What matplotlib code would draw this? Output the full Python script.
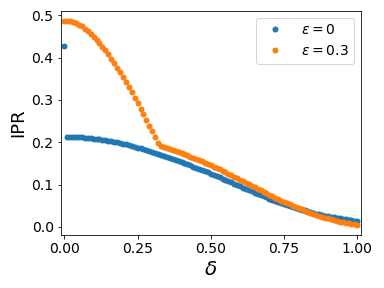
import matplotlib
matplotlib.use("Agg")
import matplotlib.pyplot as plt
import numpy as np

# delta grid, step 0.01
delta = np.round(np.arange(0, 101) * 0.01, 2)

ipr_eps0 = [
    0.4270, 0.2130, 0.2128, 0.2126, 0.2123, 0.2120, 0.2115, 0.2110, 0.2104, 0.2097,
    0.2089, 0.2080, 0.2071, 0.2061, 0.2050, 0.2038, 0.2025, 0.2012, 0.1998, 0.1983,
    0.1967, 0.1950, 0.1933, 0.1915, 0.1896, 0.1877, 0.1857, 0.1836, 0.1815, 0.1793,
    0.1770, 0.1749, 0.1727, 0.1705, 0.1683, 0.1660, 0.1636, 0.1611, 0.1585, 0.1558,
    0.1530, 0.1504, 0.1478, 0.1452, 0.1426, 0.1400, 0.1372, 0.1344, 0.1316, 0.1288,
    0.1260, 0.1230, 0.1200, 0.1170, 0.1140, 0.1110, 0.1080, 0.1050, 0.1020, 0.0990,
    0.0960, 0.0930, 0.0900, 0.0870, 0.0840, 0.0810, 0.0782, 0.0754, 0.0726, 0.0698,
    0.0670, 0.0644, 0.0618, 0.0592, 0.0566, 0.0540, 0.0518, 0.0496, 0.0474, 0.0452,
    0.0430, 0.0410, 0.0390, 0.0370, 0.0350, 0.0330, 0.0314, 0.0298, 0.0282, 0.0266,
    0.0250, 0.0238, 0.0226, 0.0214, 0.0202, 0.0190, 0.0180, 0.0170, 0.0160, 0.0150,
    0.0140,
]

ipr_eps03 = [
    0.4870, 0.4866, 0.4855, 0.4837, 0.4811, 0.4778, 0.4737, 0.4689, 0.4633, 0.4570,
    0.4500, 0.4425, 0.4345, 0.4260, 0.4170, 0.4075, 0.3975, 0.3870, 0.3762, 0.3651,
    0.3537, 0.3420, 0.3300, 0.3177, 0.3051, 0.2923, 0.2793, 0.2661, 0.2527, 0.2392,
    0.2256, 0.2119, 0.1982, 0.1915, 0.1888, 0.1860, 0.1836, 0.1812, 0.1788, 0.1764,
    0.1740, 0.1714, 0.1688, 0.1662, 0.1636, 0.1610, 0.1580, 0.1550, 0.1520, 0.1490,
    0.1460, 0.1426, 0.1392, 0.1358, 0.1324, 0.1290, 0.1256, 0.1222, 0.1188, 0.1154,
    0.1120, 0.1084, 0.1048, 0.1012, 0.0976, 0.0940, 0.0904, 0.0868, 0.0832, 0.0796,
    0.0760, 0.0726, 0.0692, 0.0658, 0.0624, 0.0590, 0.0560, 0.0530, 0.0500, 0.0470,
    0.0440, 0.0414, 0.0388, 0.0362, 0.0336, 0.0310, 0.0288, 0.0266, 0.0244, 0.0222,
    0.0200, 0.0182, 0.0164, 0.0146, 0.0128, 0.0110, 0.0098, 0.0086, 0.0074, 0.0062,
    0.0050,
]

labels = [r'$\epsilon=0$', r'$\epsilon=0.3$']
xticks = [0.0, 0.25, 0.5, 0.75, 1.0]

fig = plt.figure(figsize=(384 / 72, 288 / 72), dpi=72)
ax = fig.add_axes([0.158, 0.184, 0.782, 0.779])

ax.plot(delta, ipr_eps0, 'o', ms=5, color='#1f77b4', label=labels[0])
ax.plot(delta, ipr_eps03, 'o', ms=5, color='#ff7f0e', label=labels[1])

ax.set_xlim(-0.0125, 1.0125)
ax.set_xticks(xticks)
ax.set_xticklabels([f'{t:.2f}' for t in xticks])
ax.set_xlabel(r'$\delta$', fontsize=20)
ax.set_ylabel('IPR', fontsize=18)
ax.tick_params(labelsize=14)
ax.legend(fontsize=14, loc='upper right')

fig.savefig('out.png', dpi=72)
